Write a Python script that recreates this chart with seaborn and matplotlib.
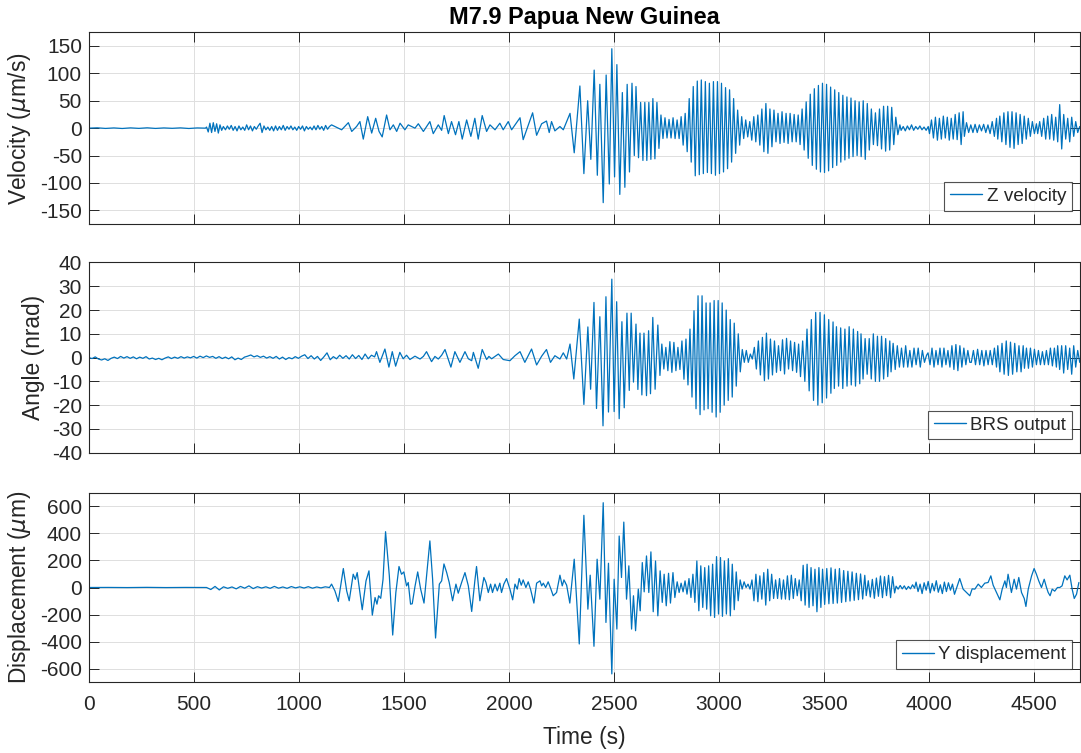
import numpy as np
import pandas as pd
import matplotlib
matplotlib.use("Agg")
import matplotlib.pyplot as plt
import seaborn as sns

# ---------------- data ----------------
TITLE = "M7.9 Papua New Guinea"
X_TICKS = [0, 500, 1000, 1500, 2000, 2500, 3000, 3500, 4000, 4500]
VEL_TICKS = [-150, -100, -50, 0, 50, 100, 150]
ANG_TICKS = [-40, -30, -20, -10, 0, 10, 20, 30, 40]
DISP_TICKS = [-600, -400, -200, 0, 200, 400, 600]

# ---- Z velocity (um/s): explicit extrema (time s, value) ----
VEL_POINTS = [
    (1155, 6), (1203, -3), (1235, 10), (1251, -6), (1274, 3), (1290, 12), (1306, -20),
    (1327, 21), (1346, -9), (1365, 18), (1381, -6), (1396, -16), (1417, 24), (1433, -3),
    (1449, 6), (1465, -6), (1481, 9), (1504, -3), (1520, 6), (1552, 0), (1568, 8),
    (1592, -6), (1623, 12), (1639, -10), (1663, 6), (1679, -4), (1691, 23), (1711, -10),
    (1726, 12), (1745, -12), (1761, 12), (1777, -20), (1798, 15), (1818, -15), (1837, 18),
    (1853, -20), (1872, 23), (1893, -6), (1909, 6), (1933, -3), (1956, 9), (1972, -3),
    (1996, 12), (2012, -3), (2052, 19), (2067, -21), (2091, 5), (2112, 28), (2131, -13),
    (2155, 8), (2178, 13), (2191, -8), (2202, 12), (2218, -5), (2242, 3), (2258, -3),
    (2277, 15), (2290, 27), (2310, -45), (2337, 77), (2356, -83), (2374, 50), (2389, -57),
    (2405, 106), (2420, -86), (2432, 80), (2448, -136), (2462, 97), (2477, -102),
    (2489, 145), (2502, -89), (2513, 116), (2527, -121), (2539, 65), (2551, -108),
    (2562, 80), (2573, -80), (2585, 82), (2596, -50), (2604, 76), (2616, -54),
    (2626, 47), (2637, -59),
]
# ---- Z velocity: runs of successive extrema (start s, end s, values) ----
VEL_RUNS = [
    (0, 555, [0, 0.6, -0.5, 0.4, -0.6, 0.5, -0.4, 0.6, -0.5, 0.4, -0.3, 0.5, -0.6, 0.4, 0]),
    (560, 640, [2, -7, 9, -8, 10, -6, 8, -9, 6, -4, 3]),
    (650, 1145, [-3, 4, -2, 5, -4, 3, -5, 4, -3, 2, -4, 6, -3, 4, -5, 3, -2, 4, 9, -8, 4, -3,
                 2, -4, 3, -5, 4, -4, 3, -3, 5, -4, 3, -2, 4, -3, 2, -4, 3, -2, 4, -5, 3, -2,
                 2, -3, 4, -3, 5, -2, 3, -4, 5, -2, 3]),
    (2646, 3376, [47, -59, 47, -57, 54, -56, 47, -37, 24, -19, 19, -18, 16, -18, 19, -19, 15,
                  -19, 21, -31, 27, -43, 54, -62, 76, -87, 86, -85, 88, -83, 85, -81, 82, -83,
                  85, -86, 85, -83, 82, -80, 74, -74, 70, -62, 54, -46, 33, -31, 21, -19, 15,
                  -16, 12, -22, 21, -25, 24, -31, 35, -43, 45, -46, 35, -34, 33, -25, 27, -28,
                  30, -26, 27, -28, 27, -25, 25, -25, 24]),
    (3385, 3860, [-30, 35, -40, 48, -55, 62, -68, 72, -75, 78, -80, 82, -81, 80, -78, 75, -72,
                  70, -68, 65, -62, 60, -58, 57, -55, 55, -52, 50, -50, 48, -52, 50, -57, 45,
                  -40, 35, -30, 28, -32, 35, -38, 40, -42, 40, -40, 38, -30, 20, -12, 6]),
    (3866, 3995, [-4, 3, -5, 4, -3, 6, -4, 3, -2, 4, -3, 2, -4, 3]),
    (4001, 4161, [-10, 15, -18, 20, -22, 18, -20, 22, -18, 20, -22, 18, -20, 25, -21, 28, -30, 30]),
    (4167, 4320, [-15, 10, -8, 6, -8, 7, -8, 6, -5, 7, -8, 6, -10, 12, -15, 18]),
    (4326, 4510, [-20, 22, -25, 28, -30, 30, -35, 30, -37, 28, -30, 25, -28, 22, -20, 18, -15,
                  12, -10, 8]),
    (4516, 4716, [-10, 12, -15, 18, -20, 22, -20, 25, -22, 20, -25, 43, -38, 25, -20, 18, -25,
                  20, -15, 12, -8, 3]),
]

# ---- BRS output angle (nrad) ----
ANG_POINTS = [
    (1369, 2.5), (1385, -2.0), (1409, 3.6), (1428, -4.0), (1444, 2.5), (1460, -3.6),
    (1480, 2.2), (1496, -0.5), (1512, 1.0), (1528, -0.8), (1552, 0.6), (1576, -0.6),
    (1592, 0.5), (1607, 2.5), (1631, -1.7), (1647, 0.5), (1663, -0.6), (1679, 1.0),
    (1695, 3.4), (1723, -4.0), (1742, 2.5), (1766, -2.0), (1790, 2.5), (1806, -0.5),
    (1822, -1.3), (1830, 2.2), (1853, -4.5), (1872, 3.4), (1893, -0.8), (1904, 0.5),
    (1917, -0.5), (1949, 1.5), (1972, -0.8), (2004, -1.3), (2028, 0.8), (2052, 2.5),
    (2075, -2.0), (2107, 3.6), (2131, -3.1), (2155, 0.6), (2178, 3.4), (2197, -2.0),
    (2218, 0.8), (2242, -0.6), (2258, 2.0), (2274, -0.6), (2290, 5.7), (2308, -9.0),
    (2334, 16.2), (2356, -19.7), (2375, 12.9), (2388, -13.3), (2404, 23.2), (2416, -21.4),
    (2432, 17.2), (2447, -28.7), (2461, 25.6), (2473, -22.9), (2489, 33.0), (2500, -22.7),
    (2512, 23.5), (2524, -25.7), (2537, 15.1), (2548, -21.1), (2561, 18.7), (2572, -13.8),
    (2581, 18.7), (2592, -10.3), (2604, 14.1), (2613, -13.4), (2623, 10.3), (2632, -15.7),
    (2642, 10.3), (2654, -16.0), (2664, 11.3), (2673, -15.2), (2684, 16.9), (2695, -13.3),
    (2708, 13.7), (2718, -7.5),
]
ANG_RUNS = [
    (0, 1360, [0.0, -0.4, 0.3, -0.6, -1.0, -0.5, -1.2, -0.3, 0.2, -0.4, 0.5, -0.2, 0.4, -0.3,
               0.3, -0.5, 0.2, -0.3, 0.4, -0.6, -0.2, -0.8, -0.3, -0.9, -0.2, 0.3, -0.4, 0.2,
               -0.3, 0.4, -0.2, 0.3, -0.1, 0.5, -0.2, 0.6, 0.0, 0.7, 0.1, 0.5, -0.3, 0.4, -0.4,
               0.2, -0.5, 0.3, -0.9, -0.2, -0.8, 0.2, 0.6, 1.1, 0.3, 0.8, 0.1, 0.6, -0.2, 0.4,
               -0.3, 0.5, -0.6, 0.2, -0.8, 0.0, -0.5, 0.4, -0.3, 0.6, 1.2, -0.4, 0.8, -0.6, 0.5,
               -1.2, 0.3, 2.0, -0.9, 0.4, -0.5, 1.0, -0.3, 0.8, -0.6, 1.2, -0.4, 0.9, -0.8, 1.5,
               -0.5, 1.0, 0.3]),
    (2727, 3378, [5.7, -4.8, 4.3, -5.5, 6.7, -6.2, 6.4, -5.5, 4.3, -5.0, 7.0, -9.1, 7.8, -11.5,
                  12.0, -16.6, 19.7, -21.5, 26.0, -24.0, 26.0, -22.0, 23.0, -21.5, 23.0, -23.0,
                  24.0, -25.0, 24.0, -23.0, 23.0, -20.0, 20.0, -18.0, 16.0, -16.6, 14.5, -12.0,
                  10.0, -6.0, 3.4, -2.0, 3.0, -2.0, 1.5, -0.6, 4.3, -4.8, 7.0, -7.3, 8.5, -9.7,
                  10.3, -9.0, 7.8, -7.3, 7.0, -6.2, 5.0, -5.5, 7.5, -6.9, 8.1, -4.8, 7.0, -5.5,
                  6.4, -6.2, 5.7]),
    (3387, 3542, [-8, 7, -10, 12, -14, 16, -18, 19, -20, 19, -19, 18, -17, 16, -15, 15]),
    (3548, 3669, [-13, 13, -12, 12.5, -13, 12, -12, 13, -11.5, 12, -12, 11, -11]),
    (3675, 3812, [10, -9, 8, -7, 8, -9, 10, -10, 9, -10, 9, -9, 8, -8, 7]),
    (3818, 3987, [-6, 6, -5, 5, -4, 4, -4, 5, -4, 3, -4, 4, -3, 4, -4, 3, -2, 1]),
    (3994, 4193, [2, -3, 4, -4, 3, -3, 4, -4, 4, -3, 3, -4, 5, -5, 5.5, -5.5, 5, -4, 4, -3, 3, -2]),
    (4200, 4320, [-2, 3, -3, 3.5, -3, 3, -3.5, 3, -3, 3, -3, 4, -4]),
    (4326, 4447, [5, -6, 6, -7, 7, -7.5, 6.5, -7, 6, -6, 5, -6, 5]),
    (4453, 4605, [-4.5, 4, -4.5, 4, -4, 3.5, -3, 3, -3, 2.5, -3, 3, -3, 4, -3.5, 4, -4]),
    (4611, 4716, [5, -5, 5, -6.5, 5, -5, 4, -7, 5, -4, 3, -2]),
]

# ---- Y displacement (um) ----
DISP_POINTS = [
    (1155, 25), (1171, -25), (1187, -103), (1211, 140), (1227, -25), (1239, -98), (1258, 98),
    (1268, 60), (1277, 110), (1301, -164), (1319, 49), (1333, 123), (1349, -204), (1362, -74),
    (1371, -123), (1379, -61), (1389, -80), (1400, 60), (1412, 412), (1430, 86), (1446, -351),
    (1461, -37), (1476, 155), (1488, 98), (1499, 115), (1512, 12), (1520, 37), (1531, -123),
    (1539, -120), (1552, 7), (1565, 115), (1579, -12), (1595, -115), (1623, 344), (1636, 61),
    (1650, -373), (1668, 25), (1679, 49), (1690, 174), (1703, 110), (1715, 37), (1731, -98),
    (1747, 25), (1758, -42), (1774, 37), (1790, 110), (1806, 12), (1822, -177), (1837, 49),
    (1845, 155), (1861, -98), (1880, 74), (1890, 37), (1901, -37), (1912, 25), (1921, -37),
    (1933, 25), (1944, -25), (1956, 32), (1964, -37), (1975, 25), (1988, 66), (2004, -12),
    (2017, -91), (2028, 25), (2039, -12), (2048, 66), (2058, 17), (2067, 56), (2080, 0),
    (2091, 42), (2102, -12), (2118, -115), (2131, 32), (2147, 49), (2155, 12), (2163, 32),
    (2174, 0), (2186, 42), (2198, -7), (2210, -61), (2226, -37), (2242, 91), (2253, 12),
    (2261, 56), (2274, 17), (2289, -115), (2310, 209), (2334, -417), (2356, 533), (2375, -160),
    (2386, 91), (2404, -434), (2419, 209), (2432, -86), (2448, 626), (2461, -258), (2473, 179),
    (2489, -638), (2500, 61), (2513, -307), (2524, 380), (2535, 74), (2546, 483), (2559, -86),
    (2570, 160), (2583, -307), (2592, -61), (2602, -319), (2615, -12), (2624, -172),
    (2634, 184), (2643, -32), (2654, 233), (2665, -37), (2675, 263), (2686, -179), (2697, 196),
    (2708, -209), (2719, 123), (2729, -110), (2738, 98), (2748, -135), (2759, 105),
    (2768, -115), (2780, 110), (2789, -74),
    (4145, 66), (4161, -12), (4177, -37), (4193, -61), (4204, -10), (4217, -12), (4233, 25),
    (4248, 0), (4264, 32), (4280, 37), (4293, 86), (4304, 17), (4320, -37), (4336, -91),
    (4347, -12), (4360, 49), (4367, 0), (4375, 98), (4391, -37), (4404, 61), (4415, -12),
    (4426, 74), (4439, -37), (4452, -81), (4460, -140), (4471, -12), (4487, 86), (4499, 140),
    (4510, 98), (4521, 49), (4534, 0), (4547, 61), (4558, 0), (4566, -37), (4575, -61),
    (4585, -12), (4597, -27), (4610, 0), (4621, 0), (4632, 12), (4645, 86), (4656, 56),
    (4669, 91), (4680, -12), (4690, -81), (4701, -49), (4712, 37),
]
DISP_RUNS = [
    (0, 550, [0, 0.5, -0.5, 1, -0.5, 0.5, 0]),
    (560, 1145, [0, -15, 8, -18, 5, -6, 4, -10, 8, -5, 12, -8, 6, -4, 5, -6, 8, -5, 4, -6, 7,
                 -3, 5, -4, 6, -5, 4, -3, 5, 0]),
    (2800, 3484, [42, -37, 32, -32, 49, -49, 66, -74, 98, -110, 196, -172, 160, -147, 147, -160,
                  160, -209, 172, -221, 228, -196, 221, -213, 196, -196, 213, -209, 172, -164,
                  115, -98, 56, -12, 42, 0, 25, -12, 56, -98, 98, -105, 86, -86, 110, -130, 135,
                  -98, 98, -81, 56, -81, 66, -86, 56, -86, 86, -91, 91, -81, 66, -61, 56, -98,
                  164, -130, 172, -147, 147, -135, 135, -179, 147, -147]),
    (3492, 3693, [135, -125, 140, -120, 145, -118, 135, -115, 140, -110, 125, -105, 120, -100,
                  115, -95, 105, -90, 100, -85, 90]),
    (3700, 3835, [-60, 50, -70, 60, -80, 70, -65, 85, -75, 80, -60, 90, -75, 80, -40]),
    (3842, 3930, [10, -12, 15, -10, 12, -15, 8, -10, 20, -5]),
    (3937, 4120, [40, -30, 25, -45, 35, -20, 45, -40, 30, -25, 50, -35, 20, -45, 40, -30, 35,
                  -20, 25, -50]),
]

T_END = 4715
LINE_COLOR = "#0072BD"
AX_COLOR = "#262626"


def assemble(points, runs):
    t = [p[0] for p in points]
    v = [p[1] for p in points]
    for t0, t1, vals in runs:
        t.extend(np.linspace(t0, t1, len(vals)))
        v.extend(vals)
    t = np.asarray(t, dtype=float)
    v = np.asarray(v, dtype=float)
    order = np.argsort(t, kind="stable")
    return pd.DataFrame({"t": t[order], "v": v[order]})


sns.set_theme(style="white")
plt.rcParams["font.family"] = ["Liberation Sans", "DejaVu Sans"]
plt.rcParams["axes.unicode_minus"] = False
plt.rcParams["mathtext.fontset"] = "dejavusans"

W, H = 1081, 753
fig = plt.figure(figsize=(W / 100, H / 100), dpi=100)
left = 88.9 / W
width = (1079.5 - 88.9) / W
boxes = [(32.3, 224.0), (262.5, 452.7), (492.7, 682.3)]
axes = []
for top, bot in boxes:
    axes.append(fig.add_axes([left, 1 - bot / H, width, (bot - top) / H]))

panels = [
    (assemble(VEL_POINTS, VEL_RUNS), "Z velocity", "Velocity ($\\mu$m/s)", (-175, 175), VEL_TICKS),
    (assemble(ANG_POINTS, ANG_RUNS), "BRS output", "Angle (nrad)", (-40, 40), ANG_TICKS),
    (assemble(DISP_POINTS, DISP_RUNS), "Y displacement", "Displacement ($\\mu$m)", (-700, 700), DISP_TICKS),
]

for i, (ax, (df, lab, ylab, ylim, yt)) in enumerate(zip(axes, panels)):
    sns.lineplot(data=df, x="t", y="v", ax=ax, color=LINE_COLOR, linewidth=0.9,
                 estimator=None, sort=False, label=lab)
    ax.set_xlim(0, T_END)
    ax.set_ylim(*ylim)
    ax.set_xticks(X_TICKS)
    ax.set_yticks(yt)
    ax.grid(True, color="#dedede", linewidth=0.7)
    ax.set_axisbelow(True)
    for s in ax.spines.values():
        s.set_color(AX_COLOR)
        s.set_linewidth(0.8)
    ax.tick_params(axis="both", direction="in", length=7, width=0.7, color=AX_COLOR,
                   labelcolor=AX_COLOR, labelsize=15, top=True, right=True,
                   bottom=True, left=True, pad=5)
    ax.tick_params(axis="x", pad=9)
    ax.set_ylabel(ylab, fontsize=16.4, color=AX_COLOR, labelpad=5)
    if i < 2:
        ax.set_xlabel("")
        ax.tick_params(axis="x", labelbottom=False)
    else:
        ax.set_xlabel("Time (s)", fontsize=16.4, color=AX_COLOR, labelpad=9)
    leg = ax.legend(loc="lower right", bbox_to_anchor=(0.9924, 0.07), borderaxespad=0,
                    fontsize=13.6, frameon=True, fancybox=False, handlelength=1.7,
                    handletextpad=0.25, borderpad=0.3)
    leg.get_frame().set_edgecolor(AX_COLOR)
    leg.get_frame().set_linewidth(0.8)
    for line in leg.get_lines():
        line.set_linewidth(1.0)

axes[0].set_title(TITLE, fontsize=16.9, fontweight="bold", color="black", pad=6)

fig.savefig("out.png", dpi=100)
